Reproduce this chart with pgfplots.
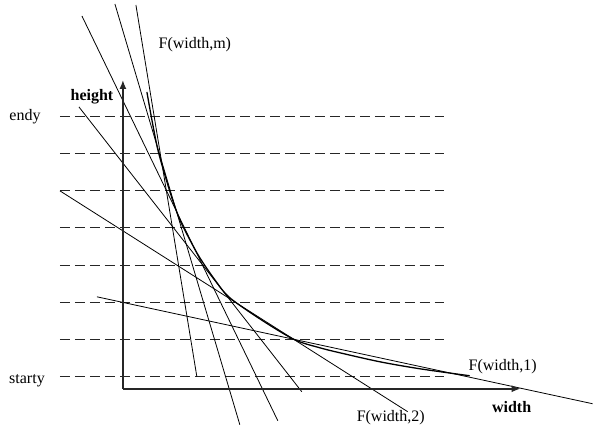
\documentclass[border=0pt]{standalone}
\usepackage{fontspec}
\setmainfont{Liberation Serif}
\usepackage{pgfplots}
\pgfplotsset{compat=1.18}
\usetikzlibrary{arrows.meta}
\begin{document}
\fontsize{16}{19}\selectfont
\begin{tikzpicture}
\begin{axis}[
  hide axis, scale only axis,
  width=593pt, height=429pt,
  xmin=0, xmax=593, ymin=0, ymax=429,
  y dir=reverse, clip=false,
]
\path (axis cs:0,0) rectangle (axis cs:593,429);
% dashed levels
\foreach \yy in {117,154,191,228,266,303,340,377}{
  \edef\temp{\noexpand\addplot[black!85, line width=1.05pt, dash pattern=on 10pt off 5pt] coordinates {(60,\yy) (444,\yy)};}
  \temp
}
% tangent lines
\addplot[black, line width=0.8pt] coordinates {(82,16) (278,421)};
\addplot[black, line width=0.8pt] coordinates {(115,4) (240,425)};
\addplot[black, line width=0.8pt] coordinates {(136,5) (197,377)};
\addplot[black, line width=0.8pt] coordinates {(79,107) (302,392)};
\addplot[black, line width=0.8pt] coordinates {(60,191) (408,412)};
\addplot[black, line width=0.8pt] coordinates {(97,297) (593,404)};
% curve
\addplot[black, line width=1.3pt, smooth] coordinates {
 (147,92) (152,120) (158,150) (165,175) (172,198) (180,220) (190,240) (200,258)
 (215,280) (230,298) (263,321) (295,340) (320,348) (340,353) (380,362) (420,369) (470,376)};
% axes
\addplot[black!85, line width=1.6pt, -{Latex[length=9pt,width=7pt]}] coordinates {(123,389) (123,80)};
\addplot[black!85, line width=1.6pt, -{Latex[length=9pt,width=7pt]}] coordinates {(123,389) (521,389)};
% labels
\node at (axis cs:195,45) {F(width,m)};
\node at (axis cs:92,97) {\bfseries height};
\node at (axis cs:25,117) {endy};
\node at (axis cs:27,381) {starty};
\node at (axis cs:503,367) {F(width,1)};
\node at (axis cs:512,407) {\bfseries width};
\node at (axis cs:391,418) {F(width,2)};
\end{axis}
\end{tikzpicture}
\end{document}
